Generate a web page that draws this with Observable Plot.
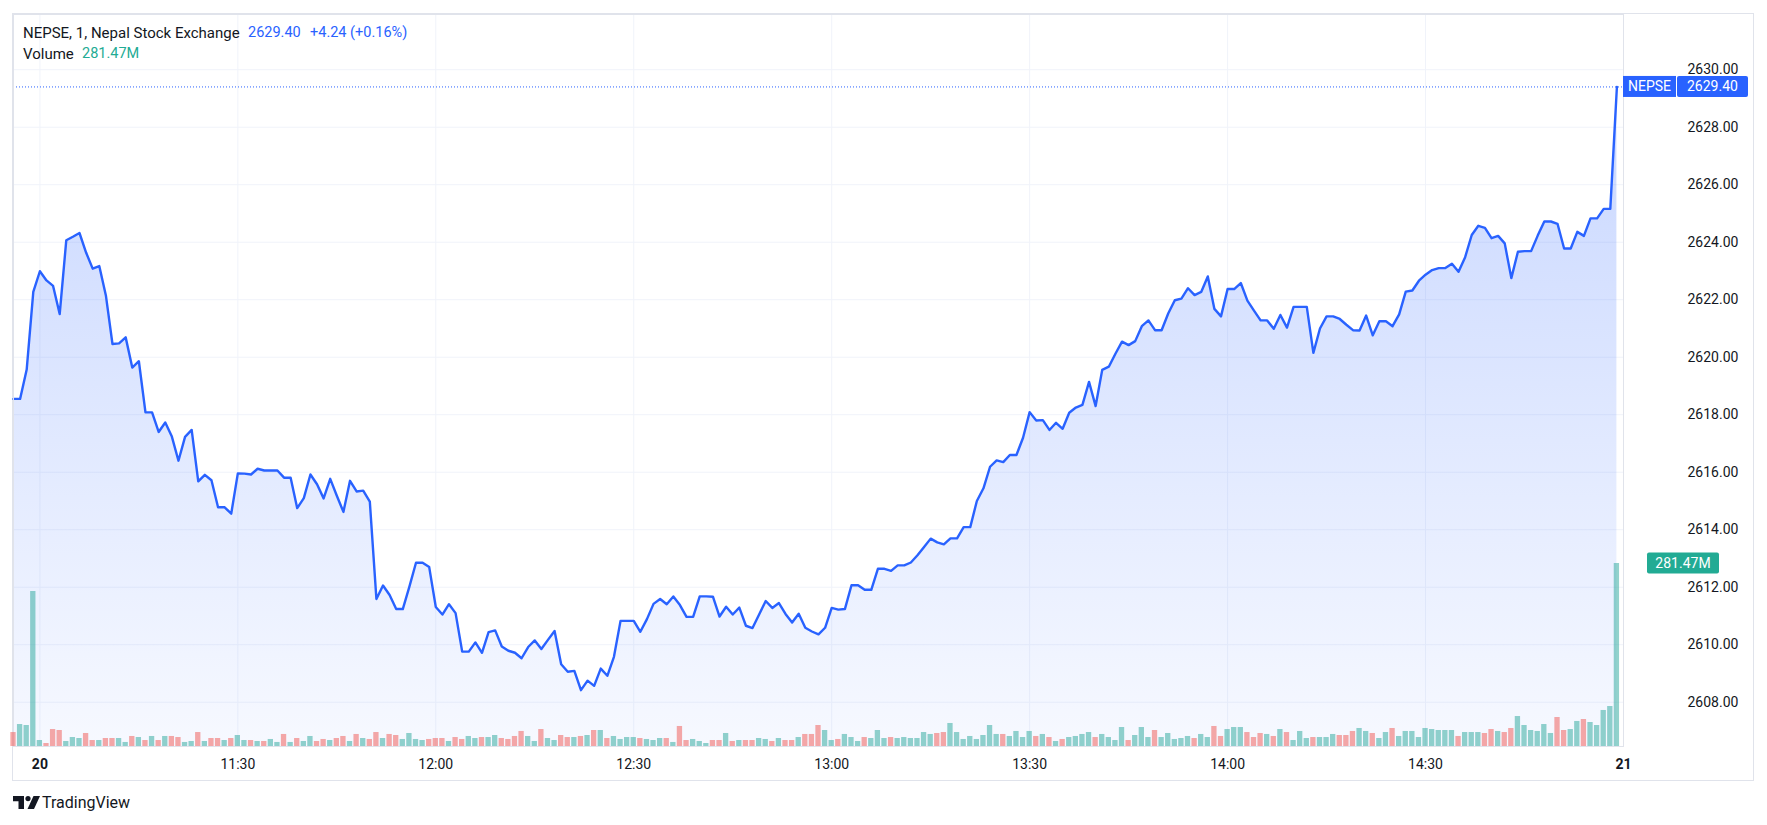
<!DOCTYPE html>
<html>
<head>
<meta charset="utf-8">
<script src="https://cdn.jsdelivr.net/npm/d3@7"></script>
<script src="https://cdn.jsdelivr.net/npm/@observablehq/plot@0.6"></script>
<style>
  html, body { margin: 0; padding: 0; background: #ffffff; }
  body { width: 1767px; height: 825px; position: relative; overflow: hidden; font-family: Roboto, "Noto Sans", sans-serif; color: #131722; }
  #frame { position: absolute; left: 12px; top: 13px; width: 1742px; height: 768px; border: 1px solid #e0e3eb; box-sizing: border-box; }
  .layer { position: absolute; left: 0; top: 0; }
  .lg { position: absolute; font-size: 14.5px; line-height: 16px; white-space: pre; }
  #logo { position: absolute; left: 13px; top: 796px; }
  #logotext { position: absolute; left: 42px; top: 793px; font-size: 16px; line-height: 20px; color: #131722; }
</style>
</head>
<body>
<div id="frame"></div>
<div id="chart"></div>
<div class="lg" id="t1" style="left:23px;top:25px;font-size:15px;">NEPSE, 1, Nepal Stock Exchange</div>
<div class="lg" id="t2" style="left:248px;top:25px;color:#2962ff;"></div>
<div class="lg" id="t3" style="left:310px;top:25px;color:#2962ff;"></div>
<div class="lg" id="t4" style="left:23px;top:46px;font-size:15px;">Volume</div>
<div class="lg" id="t5" style="left:82px;top:46px;color:#22ab94;"></div>
<svg id="logo" width="27" height="14" viewBox="0 0 27 14">
  <path d="M0 0 H11 V13 H5.5 V5.2 H0 Z" fill="#131722"/>
  <circle cx="15" cy="2.6" r="2.6" fill="#131722"/>
  <path d="M20.5 0 H27 L21 13 H14.5 Z" fill="#131722"/>
</svg>
<div id="logotext">TradingView</div>
<script>
// ---------- data ----------
const sessionStart = new Date(Date.UTC(2024, 0, 20, 10, 56));
const sessionEnd = new Date(Date.UTC(2024, 0, 20, 15, 0));

const closes = [
  // 10:56 - 11:59
  2618.55, 2618.55, 2619.57, 2622.27, 2622.99, 2622.67, 2622.48, 2621.50, 2624.07, 2624.19,
  2624.32, 2623.64, 2623.08, 2623.17, 2622.15, 2620.46, 2620.48, 2620.69, 2619.64, 2619.86,
  2618.08, 2618.08, 2617.40, 2617.73, 2617.24, 2616.40, 2617.23, 2617.47, 2615.68, 2615.91,
  2615.72, 2614.78, 2614.78, 2614.56, 2615.96, 2615.95, 2615.92, 2616.12, 2616.06, 2616.06,
  2616.06, 2615.81, 2615.81, 2614.75, 2615.10, 2615.92, 2615.58, 2615.09, 2615.77, 2615.18,
  2614.62, 2615.70, 2615.33, 2615.36, 2614.98, 2611.59, 2612.06, 2611.73, 2611.24, 2611.24,
  2612.02, 2612.85, 2612.85, 2612.70,
  // 12:00 - 12:58
  2611.31, 2611.05, 2611.41, 2611.10, 2609.76, 2609.76, 2610.08, 2609.72, 2610.44, 2610.50,
  2609.94, 2609.79, 2609.72, 2609.53, 2609.92, 2610.15, 2609.85, 2610.17, 2610.48, 2609.32,
  2609.06, 2609.09, 2608.42, 2608.75, 2608.57, 2609.17, 2608.92, 2609.58, 2610.83, 2610.83,
  2610.83, 2610.45, 2610.89, 2611.42, 2611.59, 2611.41, 2611.68, 2611.38, 2610.97, 2610.97,
  2611.68, 2611.68, 2611.67, 2610.98, 2611.32, 2611.05, 2611.29, 2610.66, 2610.58, 2611.05,
  2611.52, 2611.28, 2611.45, 2611.07, 2610.77, 2611.08, 2610.59, 2610.46, 2610.36,
  // 12:59 - 14:00
  2610.59, 2611.28, 2611.22, 2611.24, 2612.07, 2612.07, 2611.91, 2611.91, 2612.64, 2612.64, 2612.57,
  2612.76, 2612.76, 2612.86, 2613.11, 2613.40, 2613.69, 2613.56, 2613.49, 2613.70, 2613.70,
  2614.09, 2614.09, 2615.00, 2615.44, 2616.19, 2616.41, 2616.35, 2616.60, 2616.60, 2617.20,
  2618.09, 2617.80, 2617.81, 2617.47, 2617.72, 2617.51, 2618.07, 2618.25, 2618.34, 2619.14,
  2618.30, 2619.56, 2619.67, 2620.12, 2620.54, 2620.42, 2620.56, 2621.08, 2621.28, 2620.94,
  2620.94, 2621.52, 2621.98, 2622.04, 2622.40, 2622.16, 2622.27, 2622.81, 2621.68, 2621.42,
  2622.37,
  // 14:01 - 14:59
  2622.37, 2622.58, 2621.97, 2621.62, 2621.28, 2621.28, 2620.99, 2621.47, 2621.03,
  2621.75, 2621.75, 2621.75, 2620.15, 2621.00, 2621.42, 2621.42, 2621.33, 2621.13, 2620.94,
  2620.93, 2621.45, 2620.76, 2621.25, 2621.25, 2621.08, 2621.49, 2622.28, 2622.32, 2622.66,
  2622.87, 2623.03, 2623.10, 2623.10, 2623.25, 2622.97, 2623.48, 2624.25, 2624.57, 2624.50,
  2624.14, 2624.22, 2623.96, 2622.75, 2623.67, 2623.69, 2623.69, 2624.23, 2624.72, 2624.72,
  2624.64, 2623.78, 2623.78, 2624.36, 2624.22, 2624.83, 2624.83, 2625.16, 2625.16, 2629.40
];

// volume in millions, per minute bar
const volumes = [
  // 10:56 - 11:59
  21.5, 33.8, 32.3, 238.4, 9.2, 4.6, 26.1, 24.6, 7.7, 13.8, 12.3, 20.0, 9.2, 9.2, 12.3, 12.3,
  12.3, 6.2, 15.4, 13.8, 9.2, 15.4, 9.2, 15.4, 15.4, 13.8, 6.2, 7.7, 21.5, 7.7, 12.3, 12.3,
  9.2, 12.3, 16.9, 9.2, 9.2, 7.7, 7.7, 10.8, 6.2, 18.5, 6.2, 12.3, 7.7, 15.4, 7.7, 10.8,
  9.2, 12.3, 15.4, 7.7, 18.5, 12.3, 10.8, 21.5, 12.3, 18.5, 16.9, 10.8, 20.0, 10.8, 9.2, 10.8,
  // 12:00 - 13:02
  12.3, 12.3, 7.7, 13.8, 10.8, 15.4, 12.3, 13.8, 13.8, 16.9,
  12.3, 10.8, 15.4, 23.1, 15.4, 7.7, 26.1, 12.3, 9.2, 16.9,
  13.8, 13.8, 15.4, 16.9, 24.6, 24.6, 12.3, 15.4, 10.8, 13.8,
  13.8, 12.3, 10.8, 9.2, 12.3, 12.3, 6.2, 30.8, 9.2, 10.8,
  7.7, 4.6, 9.2, 9.2, 20.0, 7.7, 9.2, 9.2, 9.2, 12.3,
  10.8, 7.7, 12.3, 9.2, 9.2, 13.8, 18.5, 18.5, 32.3, 24.6,
  9.2, 10.8, 18.5,
  // 13:03 - 14:06
  13.8, 7.7, 13.8, 12.3, 24.6, 12.3, 13.8, 12.3, 13.8, 12.3,
  12.3, 21.5, 18.5, 20.0, 21.5, 35.4, 21.5, 10.8, 15.4, 10.8,
  16.9, 32.3, 18.5, 18.5, 15.4, 23.1, 13.8, 23.1, 15.4, 18.5,
  13.8, 7.7, 10.8, 13.8, 15.4, 18.5, 21.5, 13.8, 18.5, 13.8,
  9.2, 29.2, 9.2, 16.9, 29.2, 13.8, 24.6, 13.8, 20.0, 10.8,
  12.3, 15.4, 12.3, 18.5, 13.8, 30.8, 15.4, 26.1, 29.2, 29.2,
  21.5, 13.8, 20.0, 18.5,
  // 14:07 - 14:59
  15.4, 26.1, 21.5, 9.2, 23.1, 12.3, 13.8, 13.8, 13.8, 18.5,
  16.9, 16.9, 23.1, 27.7, 23.1, 20.0, 12.3, 21.5, 27.7, 15.4,
  23.1, 23.1, 13.8, 27.7, 26.1, 24.6, 24.6, 24.6, 15.4, 21.5,
  21.5, 21.5, 20.0, 26.1, 23.1, 21.5, 27.7, 46.1, 32.3, 24.6,
  23.1, 33.8, 20.0, 44.6, 24.6, 26.1, 38.5, 41.5, 36.9, 32.3,
  55.4, 61.5, 281.47
];

// bar direction: u = close >= open (green), d = close < open (red)
const directions = (
  "duuuuddd" + "uuuddudd" + "uudududu" + "dduududd" + "uduududu" + "ududuudd" + "uddududd" + "udduuuud" +
  "ddudduuduu" + "dddduuduud" + "dudududuuu" + "uduuududdu" + "uuddududdu" + "ududdudddu" + "udu" +
  "uuduuuduuu" + "uuudduuuuu" + "uuuduuuudu" + "duduuuuduu" + "uuduuuduuu" + "uuduudduuu" + "dddu" +
  "duduuuduuu" + "ddduuduudu" + "uuuuuuuudu" + "uudduddu" + "uu" + "uuudduuduu" + "uuu"
).split("");

const prevClose = 2625.16;
const yTicks = [2608, 2610, 2612, 2614, 2616, 2618, 2620, 2622, 2624, 2626, 2628, 2630];
const yDomain = [2606.46, 2631.92];
const xTickTimes = ["11:00", "11:30", "12:00", "12:30", "13:00", "13:30", "14:00", "14:30", "15:00"];
const xTickLabels = ["20", "11:30", "12:00", "12:30", "13:00", "13:30", "14:00", "14:30", "21"];
const symbol = "NEPSE";

// ---------- build ----------
const times = d3.utcMinute.range(sessionStart, sessionEnd);
const rows = times.map((t, i) => ({ time: t, close: closes[i], vol: volumes[i], up: directions[i] === "u" }));
const parseHM = s => { const [h, m] = s.split(":").map(Number); return new Date(Date.UTC(2024, 0, 20, h, m)); };
const xTicks = xTickTimes.map(parseHM);
const tickLabel = new Map(xTicks.map((t, i) => [+t, xTickLabels[i]]));

const last = rows[rows.length - 1];
const change = last.close - prevClose;
const pct = change / prevClose * 100;

const W = 1767, H = 781, ML = 13, MR = 144, MT = 14, MB = 35;
const plotRight = W - MR, plotBottom = H - MB;
const volPaneHeight = 183;
const font = "Roboto, 'Noto Sans', sans-serif";

const priceChart = Plot.plot({
  width: W, height: H,
  marginLeft: ML, marginRight: MR, marginTop: MT, marginBottom: MB,
  style: { fontSize: "14px", fontFamily: font, color: "#131722", background: "transparent", overflow: "visible" },
  x: { type: "utc", domain: [sessionStart, sessionEnd], ticks: xTicks, tickFormat: d => tickLabel.get(+d), tickSize: 0, tickPadding: 13, label: null },
  y: { domain: yDomain, axis: "right", ticks: yTicks, tickFormat: d3.format(".2f"), tickSize: 0, tickPadding: 64, label: null },
  marks: [
    Plot.ruleY(yTicks, { stroke: "#f0f3fa", strokeWidth: 1 }),
    Plot.ruleX(xTicks, { stroke: "#f0f3fa", strokeWidth: 1 }),
    Plot.areaY(rows, { x: "time", y1: yDomain[0], y2: "close", fill: "url(#areaGrad)" }),
    Plot.lineY(rows, { x: "time", y: "close", stroke: "#2962ff", strokeWidth: 2.4, strokeLinejoin: "round" }),
    Plot.ruleY([last.close], { stroke: "#2962ff", strokeWidth: 1, strokeDasharray: "1,2" }),
    Plot.frame({ stroke: "#e0e3eb" })
  ]
});
priceChart.classList.add("layer");

const svgP = d3.select(priceChart);
const defs = svgP.insert("defs", ":first-child");
const grad = defs.append("linearGradient").attr("id", "areaGrad")
  .attr("gradientUnits", "userSpaceOnUse").attr("x1", 0).attr("x2", 0).attr("y1", MT).attr("y2", plotBottom);
grad.append("stop").attr("offset", 0).attr("stop-color", "#2962ff").attr("stop-opacity", 0.28);
grad.append("stop").attr("offset", 1).attr("stop-color", "#2962ff").attr("stop-opacity", 0.04);

svgP.selectAll("text").filter(function () { return this.textContent === "20" || this.textContent === "21"; })
  .attr("font-weight", "bold");

// last price label on the price axis
const cy = priceChart.scale("y").apply(last.close);
const lab = svgP.append("g").attr("font-family", font).attr("font-size", 14).attr("text-anchor", "start");
lab.append("rect").attr("x", plotRight).attr("y", cy - 10.5).attr("width", 53).attr("height", 21).attr("fill", "#2962ff");
lab.append("rect").attr("x", plotRight + 54).attr("y", cy - 10.5).attr("width", 71).attr("height", 21).attr("rx", 2).attr("fill", "#2962ff");
lab.append("text").attr("x", plotRight + 26.5).attr("y", cy).attr("dy", "0.35em").attr("text-anchor", "middle").attr("fill", "#fff").text(symbol);
lab.append("text").attr("x", plotRight + 64).attr("y", cy).attr("dy", "0.35em").attr("text-anchor", "start").attr("fill", "#fff").text(d3.format(".2f")(last.close));

const volChart = Plot.plot({
  width: W, height: H,
  marginLeft: ML, marginRight: MR, marginTop: MT, marginBottom: MB,
  style: { fontSize: "14px", fontFamily: font, background: "transparent", overflow: "visible" },
  x: { type: "utc", domain: [sessionStart, sessionEnd], axis: null },
  y: { domain: [0, d3.max(volumes)], range: [plotBottom, plotBottom - volPaneHeight], axis: null },
  color: { type: "identity" },
  marks: [
    Plot.rectY(rows, {
      x1: d => new Date(+d.time - 30000), x2: d => new Date(+d.time + 30000),
      y1: 0, y2: "vol",
      fill: d => d.up ? "#26a69a" : "#ef5350", fillOpacity: 0.5,
      insetLeft: 0.65, insetRight: 0.65
    })
  ]
});
volChart.classList.add("layer");
const vy = volChart.scale("y").apply(last.vol);
const vlab = d3.select(volChart).append("g").attr("font-family", font).attr("font-size", 14);
vlab.append("rect").attr("x", plotRight + 24).attr("y", vy - 10.5).attr("width", 72).attr("height", 21).attr("rx", 2).attr("fill", "#22ab94");
vlab.append("text").attr("x", plotRight + 60).attr("y", vy).attr("dy", "0.35em").attr("text-anchor", "middle").attr("fill", "#fff")
  .text(d3.format(".2f")(last.vol) + "M");

const holder = document.getElementById("chart");
holder.appendChild(priceChart);
holder.appendChild(volChart);

// legend
document.getElementById("t2").textContent = d3.format(".2f")(last.close);
document.getElementById("t3").textContent = d3.format("+.2f")(change) + " (" + d3.format("+.2f")(pct) + "%)";
document.getElementById("t5").textContent = d3.format(".2f")(last.vol) + "M";
</script>
</body>
</html>
